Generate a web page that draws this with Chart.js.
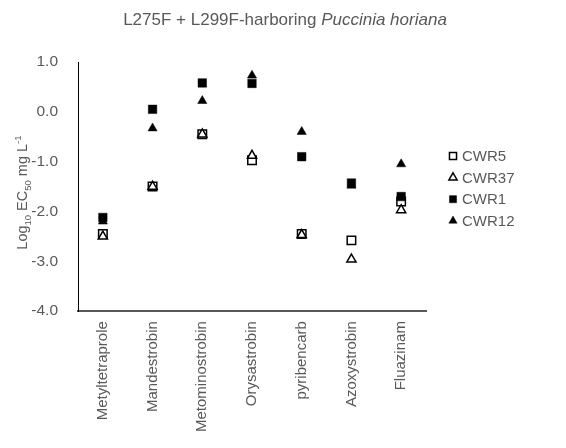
<!DOCTYPE html>
<html><head><meta charset="utf-8">
<script src="https://cdn.jsdelivr.net/npm/chart.js@4/dist/chart.umd.min.js"></script>
<style>
html,body{margin:0;padding:0;background:#fff;}
#wrap{position:relative;width:566px;height:448px;}
#title{position:absolute;left:0;top:10px;width:570px;text-align:center;font:17px/20px "Liberation Sans",Arial,sans-serif;color:#595959;}
canvas{position:absolute;left:0;top:0;}
</style></head>
<body>
<div id="wrap">
<canvas id="c" width="566" height="448"></canvas>
<div id="title">L275F + L299F-harboring <i>Puccinia horiana</i></div>
</div>
<script>
const categories = ['Metyltetraprole','Mandestrobin','Metominostrobin','Orysastrobin','pyribencarb','Azoxystrobin','Fluazinam'];
const seriesNames = ['CWR5','CWR37','CWR1','CWR12'];
const CWR5  = [-2.45, -1.50, -0.45, -0.97, -2.45, -2.58, -1.80];
const CWR37 = [-2.50, -1.50, -0.45, -0.88, -2.47, -2.96, -1.97];
const CWR1  = [-2.12,  0.05,  0.58,  0.57, -0.90, -1.43, -1.70];
const CWR12 = [-2.20, -0.33,  0.22,  0.73, -0.40, -1.48, -1.05];
const yMin = -4, yMax = 1, yStep = 1;
// y-axis title pieces: [text, kind] kind: n = normal, sub = subscript, sup = superscript
const yTitleParts = [['Log','n'],['10','sub'],[' EC','n'],['50','sub'],[' mg L','n'],['-1','sup']];

const grey = '#595959';
const font = '"Liberation Sans", Arial, sans-serif';
function ds(label, data, style, filled, order){
  const r = style === 'triangle' ? 5.3 : 6;
  return {label, data, showLine:false, pointStyle:style, order,
    pointRadius: r, pointHoverRadius: r,
    pointBackgroundColor: filled ? '#000' : '#fff',
    pointBorderColor:'#000', pointBorderWidth: filled?0.5:1.5,
    backgroundColor: filled ? '#000' : '#fff', borderColor:'#000', borderWidth: filled?0.5:1.5};
}
// legend drawn from the datasets, placed to the right of the plot
const sideLegend = {
  id:'sideLegend',
  afterDraw(chart, args, o){
    const ctx = chart.ctx;
    ctx.save();
    ctx.font = o.size + 'px ' + font;
    ctx.textBaseline = 'middle';
    chart.data.datasets.forEach((d, i) => {
      const y = o.y + i * o.step;
      const r = d.pointStyle === 'triangle' ? o.r * 0.95 : o.r;
      ctx.fillStyle = d.pointBackgroundColor;
      ctx.strokeStyle = d.pointBorderColor;
      ctx.lineWidth = d.pointBorderWidth;
      Chart.helpers.drawPoint(ctx, {pointStyle:d.pointStyle, radius:r, borderWidth:d.pointBorderWidth}, o.x, y);
      ctx.fillStyle = grey;
      ctx.fillText(d.label, o.x + o.gap, y + 1);
    });
    ctx.restore();
  }
};
// rotated y-axis title with real sub/superscripts
const yTitle = {
  id:'yTitle',
  afterDraw(chart, args, o){
    const ctx = chart.ctx, ca = chart.chartArea;
    const f = k => (k === 'n' ? o.size : o.small) + 'px ' + font;
    let total = 0;
    yTitleParts.forEach(([t,k]) => { ctx.font = f(k); total += ctx.measureText(t).width; });
    ctx.save();
    ctx.translate(o.x, (ca.top + ca.bottom)/2 + o.dy);
    ctx.rotate(-Math.PI/2);
    ctx.fillStyle = grey;
    ctx.textBaseline = 'alphabetic';
    let x = -total/2;
    yTitleParts.forEach(([t,k]) => {
      ctx.font = f(k);
      const off = k === 'sub' ? o.size*0.25 : k === 'sup' ? -o.size*0.4 : 0;
      ctx.fillText(t, x, o.size*0.35 + off);
      x += ctx.measureText(t).width;
    });
    ctx.restore();
  }
};
new Chart(document.getElementById('c'), {
  type:'line',
  data:{labels:categories, datasets:[
    ds(seriesNames[0], CWR5, 'rect', false, 4),
    ds(seriesNames[1], CWR37, 'triangle', false, 3),
    ds(seriesNames[2], CWR1, 'rect', true, 2),
    ds(seriesNames[3], CWR12, 'triangle', true, 1)
  ]},
  plugins:[sideLegend, yTitle],
  options:{
    responsive:false, animation:false,
    layout:{padding:{top:62,left:14,right:140,bottom:6}},
    plugins:{
      tooltip:{enabled:false},
      legend:{display:false},
      sideLegend:{x:453, y:156, step:21.6, r:5, gap:9, size:15},
      yTitle:{x:22, dy:6, size:14.5, small:9.5}
    },
    scales:{
      x:{type:'category', offset:true,
        grid:{display:false, drawTicks:false},
        border:{display:true,color:'#595959',width:2},
        ticks:{color:grey, font:{family:font,size:15}, maxRotation:90, minRotation:90, padding:10, autoSkip:false}},
      y:{min:yMin, max:yMax,
        grid:{display:false, drawTicks:false},
        border:{display:true,color:'#000',width:1},
        afterFit:s => { s.width = 64; },
        ticks:{stepSize:yStep, color:grey, font:{family:font,size:15.5}, padding:20,
          callback:v=>Number(v).toFixed(1)}}
    }
  }
});
</script>
</body></html>
